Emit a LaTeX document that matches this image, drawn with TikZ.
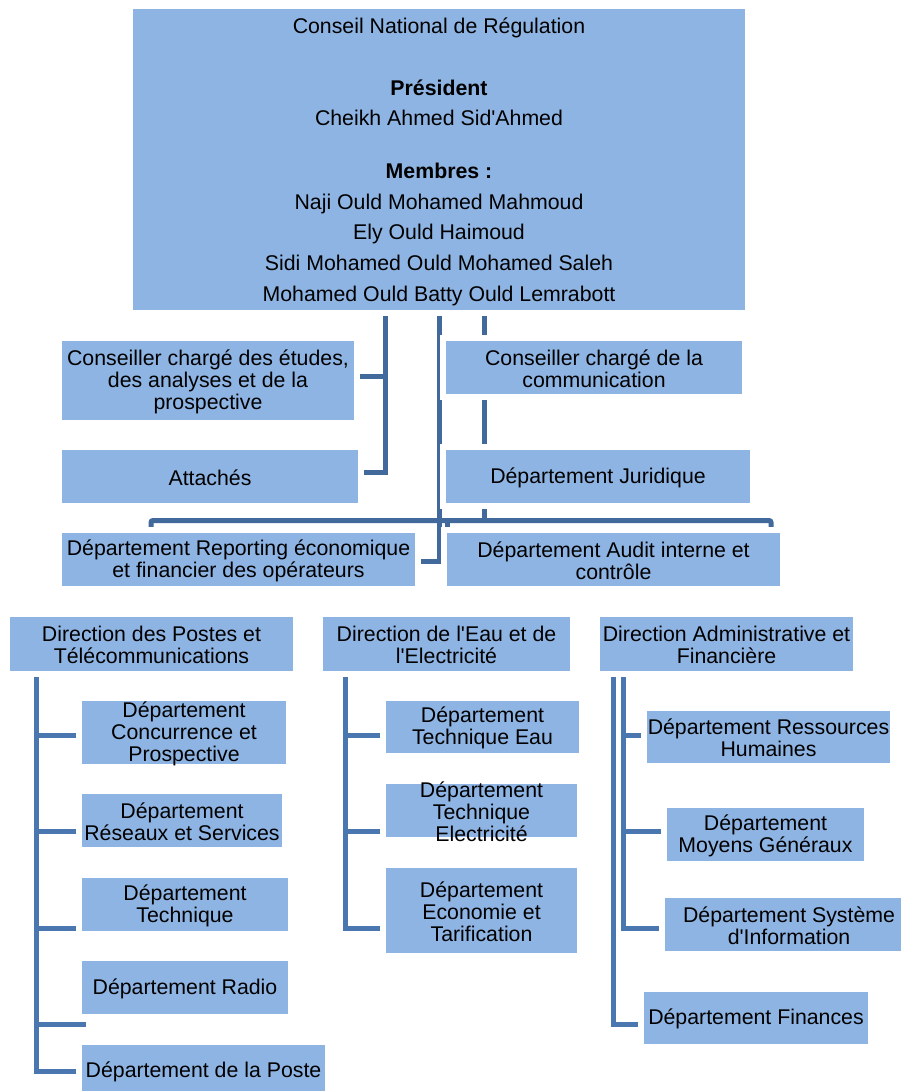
\documentclass[tikz,border=0pt]{standalone}
\usepackage{fontspec}
\newfontfamily\lib{Liberation Sans}
\definecolor{boxblue}{HTML}{8EB4E3}
\definecolor{topline}{HTML}{41699B}
\definecolor{botline}{HTML}{4A77AF}
\pgfdeclarelayer{bg}
\pgfsetlayers{bg,main}
\newcommand\obox[6]{%
  \node[box, minimum width={#4-#2+6}, minimum height={#5-#3+6}] (#1) at ({(#2+#4)/2},{(#3+#5)/2}) {};
  \node[txt] (#1t) at (#1.center) {#6};}
\begin{document}
\begin{tikzpicture}[x=1pt,y=-1pt,
  box/.style={fill=boxblue,draw=white,line width=6pt,inner sep=0pt},
  txt/.style={inner sep=0pt,align=center,text=black,yshift=-1pt,font=\lib\fontsize{21.3}{22}\selectfont},
  conn/.style={line width=5pt,draw=topline},
  bconn/.style={line width=5pt,draw=botline}]
\useasboundingbox (0,0) rectangle (901,1091);

% top box
\node[box, minimum width={745-133+6}, minimum height={310-9+6}] (top) at ({(133+745)/2},{(9+310)/2}) {};
\node[txt, yshift=-1pt, font=\lib\fontsize{21.3}{30.6}\selectfont] (topt) at (top.center) {%
Conseil National de Régulation\\[31.4pt]
\textbf{Président}\\
Cheikh Ahmed Sid'Ahmed\\[22.4pt]
\textbf{Membres :}\\
Naji Ould Mohamed Mahmoud\\
Ely Ould Haimoud\\
Sidi Mohamed Ould Mohamed Saleh\\
Mohamed Ould Batty Ould Lemrabott};

\obox{cons1}{62}{341}{354}{420}{Conseiller chargé des études,\\des analyses et de la\\prospective}
\obox{att}{62}{450}{358}{503}{Attachés}
\obox{cons2}{446}{341}{742}{394}{Conseiller chargé de la\\communication}
\obox{jur}{446}{450}{750}{503}{Département Juridique}
\obox{rep}{62}{533}{415}{586}{Département Reporting économique\\et financier des opérateurs}
\obox{audit}{447}{533}{780}{586}{Département Audit interne et\\contrôle}

\obox{dpt}{10}{617}{293}{671}{Direction des Postes et\\Télécommunications}
\obox{conc}{82}{701}{286}{764}{Département\\Concurrence et\\Prospective}
\obox{res}{82}{794}{282}{847}{Département\\Réseaux et Services}
\obox{tech}{82}{878}{288}{931}{Département\\Technique}
\obox{radio}{82}{961}{288}{1014}{Département Radio}
\obox{poste}{82}{1045}{325}{1097}{Département de la Poste}

\obox{deau}{323}{617}{570}{671}{Direction de l'Eau et de\\l'Electricité}
\obox{teau}{386}{701}{579}{753}{Département\\Technique Eau}
\obox{telec}{386}{784}{577}{837}{Département\\Technique\\Electricité}
\obox{teco}{386}{868}{577}{953}{Département\\Economie et\\Tarification}

\obox{dadm}{600}{617}{853}{671}{Direction Administrative et\\Financière}
\obox{rh}{647}{711}{890}{763}{Département Ressources\\Humaines}
\obox{moy}{667}{808}{864}{861}{Département\\Moyens Généraux}
\obox{sys}{665}{898}{913}{951}{Département Système\\d'Information}
\obox{fin}{644}{992}{868}{1044}{Département Finances}

\begin{pgfonlayer}{bg}
  % upper connectors
  \coordinate (lbA) at (385,376);
  \coordinate (lbB) at (385,472);
  \draw[conn] (top.south -| lbB) -- (lbB) -- (lbB -| att.east);
  \draw[conn] (lbA -| cons1.east) -- (lbA);
  \coordinate (trk) at (439,561);
  \draw[conn] (top.south -| trk) -- (trk) -- (trk -| rep.east);
  \coordinate (rl) at (484,520.5);
  \draw[conn] (top.south -| rl) -- (rl);
  \coordinate (barL) at (151,520.5);
  \coordinate (barR) at (771,520.5);
  \coordinate (barM) at (447,520.5);
  \draw[conn, rounded corners=2pt] (rep.north -| barL) -- (barL) -- (barR) -- (audit.north -| barR);
  \draw[conn] (barM) -- (audit.north -| barM);

  % Postes
  \coordinate (pv) at (36,1071);
  \coordinate (p1) at (36,735);
  \coordinate (p2) at (36,831);
  \coordinate (p3) at (36,928);
  \coordinate (p4) at (36,1024);
  \coordinate (p4e) at (86,1024);
  \draw[bconn] (dpt.south -| pv) -- (pv) -- (pv -| poste.west);
  \draw[bconn] (p1) -- (p1 -| conc.west);
  \draw[bconn] (p2) -- (p2 -| res.west);
  \draw[bconn] (p3) -- (p3 -| tech.west);
  \draw[bconn] (p4) -- (p4e);

  % Eau
  \coordinate (ev) at (345,928);
  \coordinate (e1) at (345,735);
  \coordinate (e2) at (345,831);
  \draw[bconn] (deau.south -| ev) -- (ev) -- (ev -| teco.west);
  \draw[bconn] (e1) -- (e1 -| teau.west);
  \draw[bconn] (e2) -- (e2 -| telec.west);

  % Admin
  \coordinate (av1) at (613,1024);
  \coordinate (av2) at (623,928);
  \coordinate (a1) at (623,735);
  \coordinate (a2) at (623,831);
  \draw[bconn] (dadm.south -| av1) -- (av1) -- (av1 -| fin.west);
  \draw[bconn] (dadm.south -| av2) -- (av2) -- (av2 -| sys.west);
  \draw[bconn] (a1) -- (a1 -| rh.west);
  \draw[bconn] (a2) -- (a2 -| moy.west);
\end{pgfonlayer}
\end{tikzpicture}
\end{document}
